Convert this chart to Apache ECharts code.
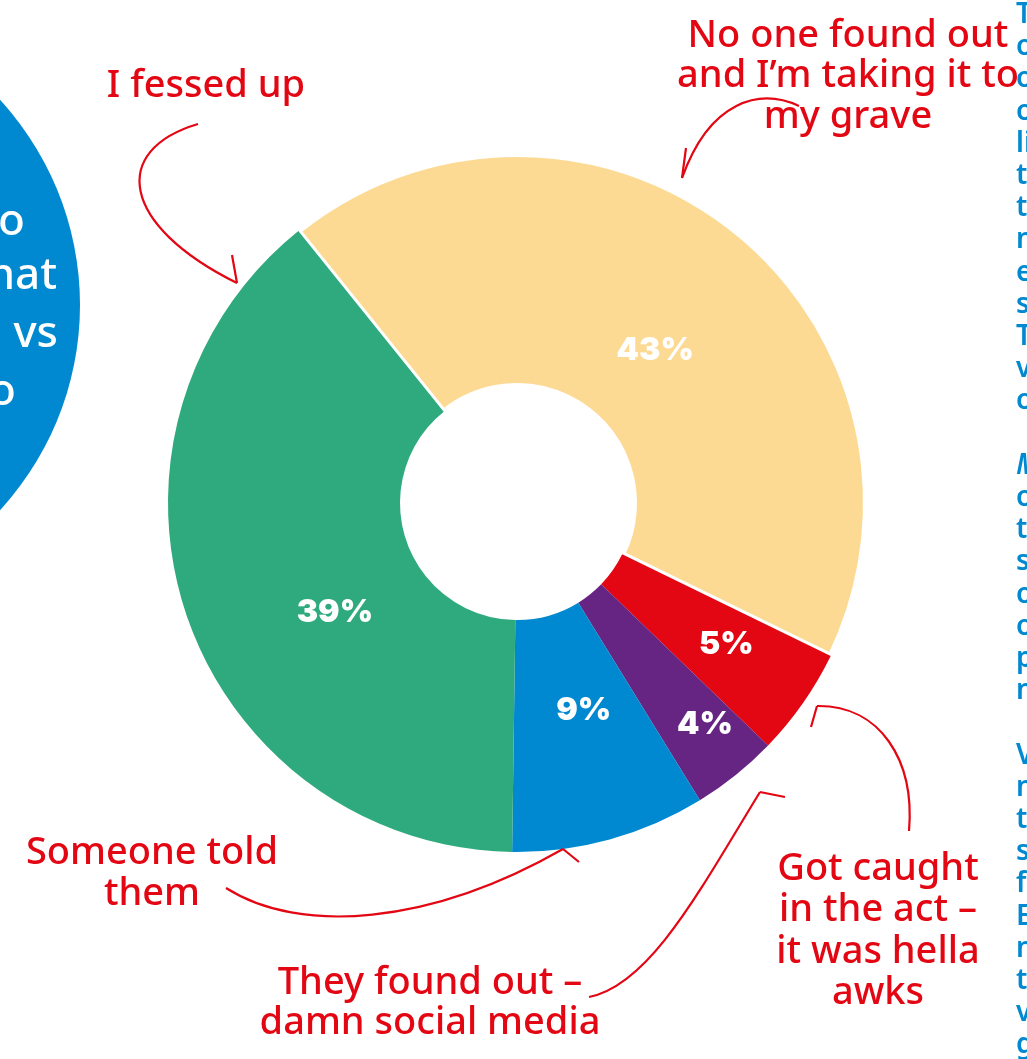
<!DOCTYPE html>
<html><head><meta charset="utf-8">
<script src="https://cdn.jsdelivr.net/npm/echarts@6/dist/echarts.min.js"></script>
<style>html,body{margin:0;padding:0;background:#fff;overflow:hidden}#c{width:1027px;height:1059px}</style>
</head><body><div id="c"></div>
<script>
// ---- data ----
const categories = ["No one found out and I’m taking it to my grave", "Got caught in the act – it was hella awks", "They found out – damn social media", "Someone told them", "I fessed up"];
const values = [43, 5, 4, 9, 39];
const sliceColors = ['#FDDA94', '#E30613', '#662483', '#0089D0', '#2FAA7E'];
const calloutLines = [
  ["No one found out", "and I’m taking it to", "my grave"],
  ["Got caught", "in the act –", "it was hella", "awks"],
  ["They found out –", "damn social media"],
  ["Someone told", "them"],
  ["I fessed up"]
];
const circleFragments = ["o", "nat", "vs", "o"];
const sideColumn = ["T","o","o","o","li","t","t","n","e","s","T","v","o","","M","o","t","s","o","o","p","n","","V","n","t","s","f","E","n","t","v","g"];

// ---- layout (positions/styles) ----
const RED = '#E30613';
const FONT = '"Noto Sans", "Open Sans", sans-serif';
const calloutPos = [ // centre x, middle y of first line, line step
  [848, 36, 40.5], [878, 869, 41.5], [430, 983, 40], [152, 853, 41], [206, 86, 40]
];
const labelNudge = [[-9, 32], [16, 6], [40, 37], [4, -20], [41, 33]];

const graphics = [];
// left blue circle
graphics.push({type:'circle', shape:{cx:-223, cy:305, r:303}, style:{fill:'#0089D0'}, z:1});
const fragRight = [25, 57, 58, 16];
const fragY = [222, 276, 334, 392];
circleFragments.forEach((t,i)=>graphics.push({type:'text', z:2, style:{text:t, x:fragRight[i], y:fragY[i], fill:'#fff', font:'500 44px ' + FONT, textAlign:'right', verticalAlign:'middle'}}));
// right column of text
sideColumn.forEach((t,i)=>{ if(!t) return; graphics.push({type:'text', z:2, style:{text:t, x:1016, y:15 + i*32.2, fill:'#0089D0', font:(t==='M'?'italic ':'') + '600 28px ' + FONT, textAlign:'left', verticalAlign:'middle'}}); });
// callouts
calloutLines.forEach((lines,k)=>{
  const [cx, y0, step] = calloutPos[k];
  lines.forEach((t,j)=>graphics.push({type:'text', z:3, style:{text:t, x:cx, y:y0 + j*step, fill:RED, font:'500 38px ' + FONT, textAlign:'center', verticalAlign:'middle'}}));
});
// arrows
const curveStyle = {stroke:RED, lineWidth:2.2, fill:null};
const curves = [
  {x1:799,y1:106, cpx1:760,cpy1:88, cpx2:710,cpy2:100, x2:682,y2:178},
  {x1:909,y1:831, cpx1:915,cpy1:760, cpx2:880,cpy2:705, x2:817,y2:706},
  {x1:589,y1:997, cpx1:650,cpy1:985, cpx2:700,cpy2:890, x2:760,y2:792},
  {x1:226,y1:888, cpx1:300,cpy1:935, cpx2:430,cpy2:925, x2:563,y2:849},
  {x1:198,y1:124, cpx1:110,cpy1:150, cpx2:120,cpy2:225, x2:237,y2:283}
];
const ticks = [
  [[686,148],[682,178]], [[817,706],[811,727]], [[760,792],[785,797]], [[563,849],[579,862]], [[232,255],[237,283]]
];
curves.forEach(s=>graphics.push({type:'bezierCurve', z:3, shape:s, style:curveStyle}));
ticks.forEach(p=>graphics.push({type:'polyline', z:3, shape:{points:p}, style:curveStyle}));

const chart = echarts.init(document.getElementById('c'), null, {renderer:'canvas'});
chart.setOption({
  animation:false,
  backgroundColor:'#fff',
  series:[{
    type:'pie',
    center:[517, 503],
    radius:[117, 349],
    startAngle:128.8,
    clockwise:true,
    avoidLabelOverlap:false,
    silent:true,
    emphasis:{disabled:true},
    labelLine:{show:false},
    label:{show:true, position:'inside', formatter:'{c}%', color:'#fff', fontFamily:'Inter, Roboto, "Noto Sans", sans-serif', fontWeight:900, fontSize:32},
    labelLayout:function(p){ const n = labelNudge[p.dataIndex]; return {dx:n[0], dy:n[1]}; },
    data: values.map((v,i)=>({name:categories[i], value:v, itemStyle: i===0 ? {color:sliceColors[i], borderColor:'#fff', borderWidth:6} : {color:sliceColors[i], borderWidth:0}}))
  }],
  graphic:{elements:graphics}
});
</script></body></html>
